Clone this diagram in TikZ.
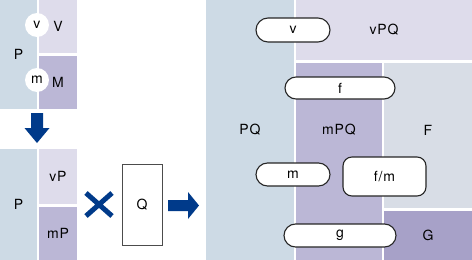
\documentclass[tikz,border=0pt]{standalone}
\usepackage{fontspec}
\setmainfont{TeX Gyre Heros}
\newfontfamily\diagfont[LetterSpace=6]{TeX Gyre Heros}
\usetikzlibrary{shapes.misc}
\definecolor{pqblue}{RGB}{205,218,229}
\definecolor{vlilac}{RGB}{222,220,235}
\definecolor{mlilac}{RGB}{187,183,214}
\definecolor{fgrey}{RGB}{216,221,230}
\definecolor{gviolet}{RGB}{167,161,200}
\definecolor{arrowblue}{RGB}{0,58,138}

\begin{document}
\begin{tikzpicture}[
    x=1pt,y=-1pt,
    every node/.style={font=\diagfont\fontsize{14}{16}\selectfont,text=black},
    block/.style={rectangle,anchor=north west,inner sep=0pt,outer sep=0pt},
    dot/.style={circle,fill=white,minimum size=24pt,inner sep=0pt},
    pill/.style={rounded rectangle,draw=black!85,line width=1.1pt,fill=white,
      inner sep=0pt,minimum height=23pt},
    fatarrow/.style={fill=arrowblue,draw=none}
  ]
    \useasboundingbox (0,0) rectangle (472,260);

    % before: P split into V and M
    \node[block,fill=pqblue,minimum width=37pt,minimum height=109pt] (P) at (0,0) {P};
    \node[block,fill=vlilac,minimum width=38pt,minimum height=53pt] (V) at (39,0) {V};
    \node[block,fill=mlilac,minimum width=38pt,minimum height=53pt] (M) at (39,56) {M};
    \node[dot] (vdot) at (37,25) {v};
    \node[dot] (mdot) at (37,80) {m};

    \fill[fatarrow] (31,113) -- (43,113) -- (43,128) -- (49.5,128) -- (37,143)
      -- (24.5,128) -- (31,128) -- cycle;

    % after: P split into vP and mP, times Q
    \node[block,fill=pqblue,minimum width=37pt,minimum height=111pt] (P2) at (0,149) {P};
    \node[block,fill=vlilac,minimum width=38pt,minimum height=55pt] (vP) at (39,149) {vP};
    \node[block,fill=mlilac,minimum width=38pt,minimum height=53pt] (mP) at (39,207) {mP};

    \draw[arrowblue,line width=5pt] (86,193) -- (112,216) (86,216) -- (112,193);
    \node[rectangle,draw=black!70,line width=1pt,fill=white,minimum width=40pt,
      minimum height=81pt,inner sep=0pt] (Q) at (142,204.5) {Q};
    \fill[fatarrow] (168,200) -- (188,200) -- (188,192) -- (199,205.5) -- (188,219)
      -- (188,211) -- (168,211) -- cycle;

    % result: PQ
    \node[block,fill=pqblue,minimum width=88pt,minimum height=260pt] (PQ) at (206,0) {PQ};
    \node[block,fill=vlilac,minimum width=176pt,minimum height=60pt] (vPQ) at (296,0) {vPQ};
    \node[block,fill=mlilac,minimum width=86pt,minimum height=197pt] (mPQ) at (296,63) {};
    \node[block,fill=fgrey,minimum width=88pt,minimum height=145pt] (F) at (384,63) {};
    \node[block,fill=gviolet,minimum width=88pt,minimum height=49pt] (G) at (384,211) {G};
    \node (mPQlabel) at (339,130) {mPQ};
    \node (Flabel) at (428,130) {F};

    \node[pill,minimum width=74pt,minimum height=24pt] (vpill) at (293,30) {v};
    \node[pill,minimum width=110pt,minimum height=22pt] (fpill) at (340,88) {f};
    \node[pill,minimum width=74pt] (mpill) at (293,174.5) {m};
    \node[pill,minimum width=112pt] (gpill) at (340,235.5) {g};
    \node[rectangle,rounded corners=9pt,draw=black!85,line width=1.1pt,fill=white,
      minimum width=83pt,minimum height=39pt,inner sep=0pt] (fm) at (384.5,176.5) {f/m};
  \end{tikzpicture}
\end{document}
